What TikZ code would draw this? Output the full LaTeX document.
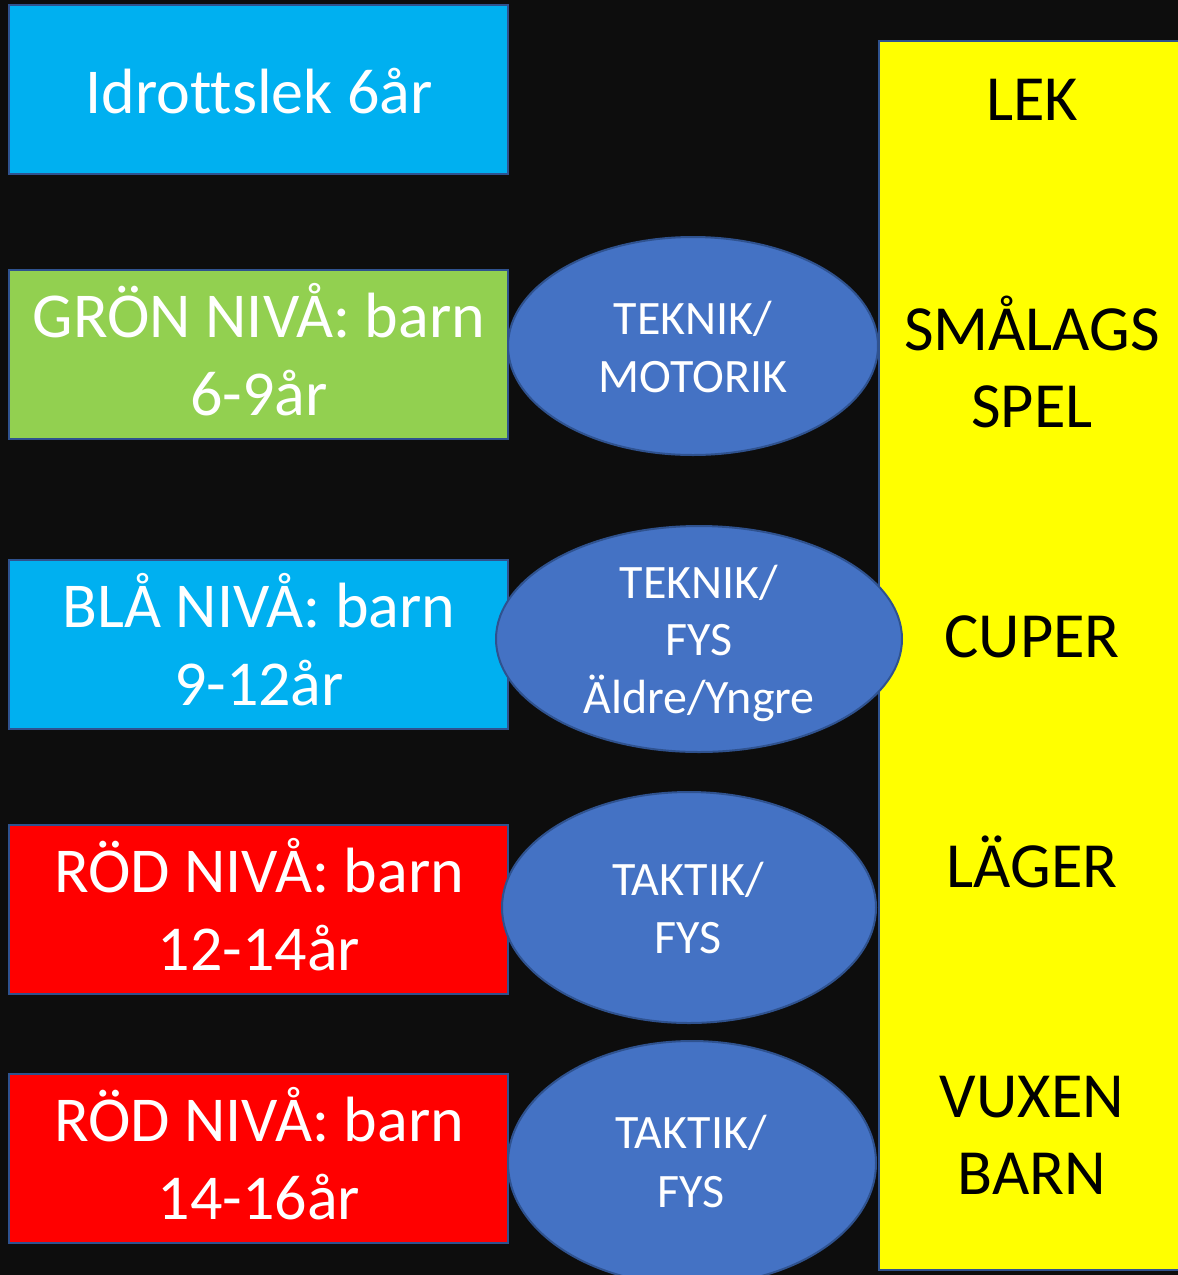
\documentclass[tikz,border=0pt]{standalone}
\usepackage{fontspec}
\setmainfont{Carlito}[Ligatures={NoCommon}]
\usetikzlibrary{shapes.geometric}
\definecolor{bgdark}{HTML}{0D0D0D}
\definecolor{lvlcyan}{HTML}{00B0F0}
\definecolor{lvlgreen}{HTML}{92D050}
\definecolor{lvlred}{HTML}{FF0000}
\definecolor{sideyellow}{HTML}{FFFF00}
\definecolor{ellblue}{HTML}{4472C4}
\definecolor{edgeblue}{HTML}{2F528F}
\begin{document}
\begin{tikzpicture}[x=0.5pt,y=-0.5pt,
  lvlbox/.style={draw=edgeblue, line width=1pt, inner sep=0pt, minimum width=249.5pt, minimum height=84.5pt},
  ellbox/.style={ellipse, draw=edgeblue, fill=ellblue, line width=1pt, inner sep=0pt},
  lvltext/.style={text=white, font=\fontsize{32}{38}\selectfont, anchor=base, inner sep=0pt},
  elltext/.style={text=white, font=\fontsize{24}{28}\selectfont, anchor=base, inner sep=0pt},
  sidetext/.style={text=black, font=\fontsize{32.2}{38}\selectfont, anchor=base, inner sep=0pt}]
\useasboundingbox (0,0) rectangle (1178,1275);
\fill[bgdark] (0,0) rectangle (1178,1275);

% right yellow column
\node[draw=edgeblue, fill=sideyellow, line width=1pt, inner sep=0pt, minimum width=160pt, minimum height=614.5pt] (side) at (1039,655.5) {};

% level boxes
\node[lvlbox, fill=lvlcyan]  (b1) at (258.5,89.5) {};
\node[lvlbox, fill=lvlgreen] (b2) at (258.5,354) {};
\node[lvlbox, fill=lvlcyan]  (b3) at (258.5,644) {};
\node[lvlbox, fill=lvlred]   (b4) at (258.5,909) {};
\node[lvlbox, fill=lvlred]   (b5) at (258.5,1158) {};

% ellipses
\node[ellbox, minimum width=185pt, minimum height=109pt] (e1) at (693,346) {};
\node[ellbox, minimum width=203pt, minimum height=113pt] (e2) at (699,639) {};
\node[ellbox, minimum width=187pt, minimum height=115.5pt] (e3) at (689,907.5) {};
\node[ellbox, minimum width=184pt, minimum height=122pt] (e4) at (692,1163) {};

% level texts
\node[lvltext] (t1) at (259,113) {Idrottslek 6år};
\node[lvltext] (t2a) at (259,337) {GRÖN NIVÅ: barn};
\node[lvltext] (t2b) at (259,415) {6-9år};
\node[lvltext] (t3a) at (259,627) {BLÅ NIVÅ: barn};
\node[lvltext] (t3b) at (259,705) {9-12år};
\node[lvltext] (t4a) at (259,892) {RÖD NIVÅ: barn};
\node[lvltext] (t4b) at (259,970) {12-14år};
\node[lvltext] (t5a) at (259,1141) {RÖD NIVÅ: barn};
\node[lvltext] (t5b) at (259,1219) {14-16år};

% ellipse texts
\node[elltext] (u1a) at (693,334) {TEKNIK/};
\node[elltext] (u1b) at (693,392) {MOTORIK};
\node[elltext] (u2a) at (699,598) {TEKNIK/};
\node[elltext] (u2b) at (699,655) {FYS};
\node[elltext] (u2c) at (699,713) {Äldre/Yngre};
\node[elltext] (u3a) at (688,895) {TAKTIK/};
\node[elltext] (u3b) at (688,953) {FYS};
\node[elltext] (u4a) at (691,1148) {TAKTIK/};
\node[elltext] (u4b) at (691,1207) {FYS};

% side texts
\node[sidetext] (s1) at (1032,120) {LEK};
\node[sidetext] (s2a) at (1032,350) {SMÅLAGS};
\node[sidetext] (s2b) at (1032,427) {SPEL};
\node[sidetext] (s3) at (1032,657) {CUPER};
\node[sidetext] (s4) at (1032,887) {LÄGER};
\node[sidetext] (s5a) at (1032,1117) {VUXEN};
\node[sidetext] (s5b) at (1032,1194) {BARN};
\end{tikzpicture}
\end{document}
